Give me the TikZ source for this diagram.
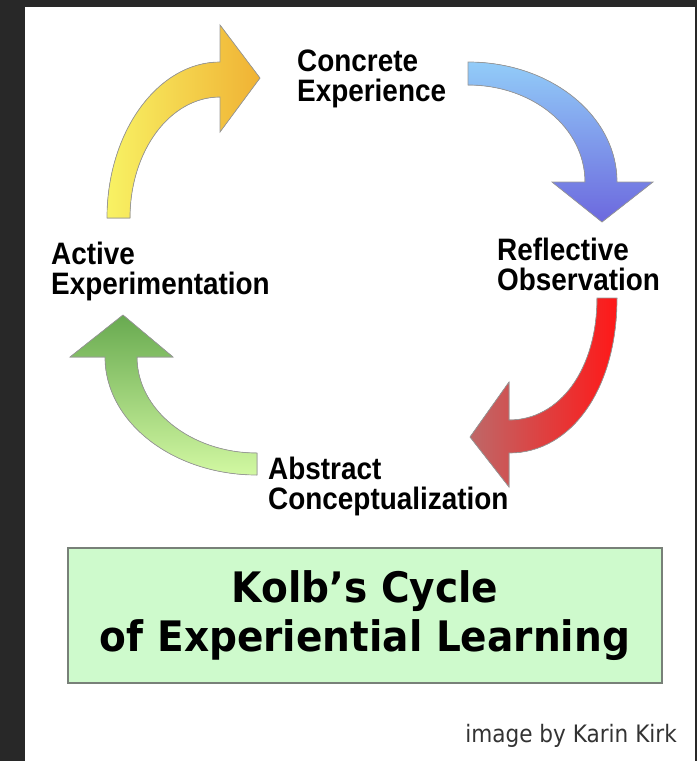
\documentclass[tikz,border=0pt]{standalone}
\usepackage{fontspec}
\newfontfamily\stagefont[FakeStretch=0.9]{Liberation Sans}
\newfontfamily\titlefont[FakeStretch=0.93]{DejaVu Sans}
\newfontfamily\creditfont[FakeStretch=0.9]{DejaVu Sans}
\definecolor{frame}{RGB}{40,40,40}
\definecolor{mint}{RGB}{206,250,204}
\definecolor{boxline}{RGB}{120,128,120}
\definecolor{lemon}{RGB}{248,242,100}
\definecolor{amber}{RGB}{240,178,52}
\definecolor{sky}{RGB}{146,204,248}
\definecolor{violet}{RGB}{108,104,222}
\definecolor{scarlet}{RGB}{255,24,24}
\definecolor{rosewood}{RGB}{190,104,104}
\definecolor{leaf}{RGB}{104,170,80}
\definecolor{sprout}{RGB}{210,248,162}
\begin{document}
\begin{tikzpicture}[x=1pt, y=-1pt]
    \tikzset{%
      stage/.style={font=\stagefont\bfseries\fontsize{31}{30}\selectfont, align=left, anchor=north west, inner sep=0pt},
      bow/.style={draw=black!40, line width=0.7pt}
      }
    \useasboundingbox (0,0) rectangle (697,761);
    \fill [frame] (0,0) rectangle (697,761);
    \fill [white] (25,7) rectangle (695,761);

    \fill [bow, left color=lemon, right color=amber] (130,218) -- (107,218) .. controls (107,132) and (158,62) .. (220,62) -- (220,25) -- (260,78) -- (220,132) -- (220,97) .. controls (170,97) and (130,151) .. (130,218) -- cycle;
    \fill [bow, top color=sky, bottom color=violet] (468,62) .. controls (551,62) and (617,116) .. (617,182) -- (653,182) -- (602,222) -- (552,182) -- (585,182) .. controls (585,128) and (533,85) .. (468,85) -- cycle;
    \fill [bow, left color=rosewood, right color=scarlet] (617,298) .. controls (617,388) and (572,453) .. (509,453) -- (509,487) -- (470,437) -- (509,382) -- (509,420) .. controls (560,420) and (597,369) .. (597,298) -- cycle;
    \fill [bow, top color=leaf, bottom color=sprout] (257,475) .. controls (173,475) and (105,422) .. (105,357) -- (70,357) -- (123,315) -- (173,357) -- (137,357) .. controls (137,410) and (191,453) .. (257,453) -- cycle;

    \node [stage] (conc) at (297,50) {Concrete\\Experience};
    \node [stage] (refl) at (497,238) {Reflective\\Observation};
    \node [stage] (abst) at (268,457) {Abstract\\Conceptualization};
    \node [stage] (actv) at (51,242) {Active\\Experimentation};

    \node [draw=boxline, line width=1.5pt, fill=mint, minimum width=594pt, minimum height=135pt, align=center,
      font=\titlefont\bfseries\fontsize{42}{49}\selectfont] (title) at (365,615.5) {Kolb’s Cycle\\of Experiential Learning};
    \node [anchor=base east, inner sep=0pt, text=black!80, font=\creditfont\fontsize{24}{24}\selectfont] (credit) at (677,742) {image by Karin Kirk};
  \end{tikzpicture}
\end{document}
